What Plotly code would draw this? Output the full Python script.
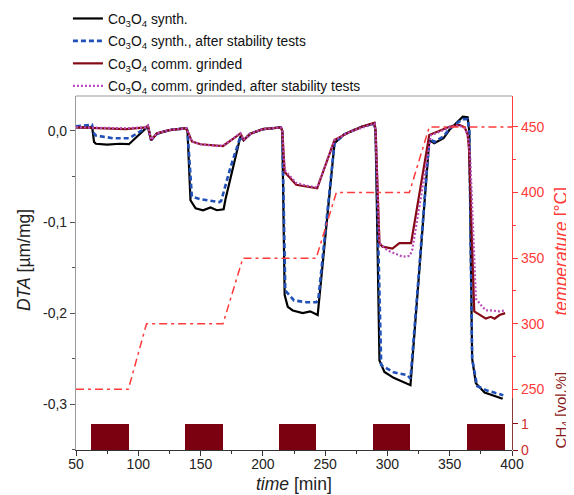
import plotly.graph_objects as go

# ---------------- data ----------------
t_synth = [50, 63, 64.5, 66, 75, 85, 92.5, 105.8, 107.7, 110.3, 115, 125, 138.5, 139.5, 141.9, 146, 152, 158,
           163, 168.5, 170, 182, 184.6, 190, 200, 214.5, 215.6, 217.5, 220, 224, 232, 238, 244, 257.5, 265,
           269.6, 280, 289.5, 290.5, 293.6, 297.6, 305, 312, 318.5, 325.6, 333.6, 337.6, 345, 349.7, 355,
           360.5, 364.4, 365.7, 368, 371, 378, 385, 392.5]
dta_synth = [0.004, 0.004, -0.012, -0.014, -0.015, -0.014, -0.0145, 0.003, 0.005, -0.010, -0.003, 0.001, 0.003,
             0.000, -0.076, -0.085, -0.087, -0.084, -0.087, -0.086, -0.075, -0.006, -0.010, -0.003, 0.002,
             0.004, 0.000, -0.180, -0.193, -0.197, -0.200, -0.198, -0.202, -0.0135, -0.004, -0.001, 0.005,
             0.008, 0.000, -0.252, -0.2645, -0.271, -0.275, -0.279, -0.153, -0.010, -0.0135, -0.008, 0.001,
             0.0085, 0.0157, 0.015, 0.000, -0.250, -0.277, -0.287, -0.290, -0.294]

t_synth_st = [50, 62.8, 64.5, 66, 80, 90, 92.5, 105.8, 107.7, 110.3, 115, 125, 138.5, 139.5, 143, 150, 158,
              165, 166.5, 174, 182, 184.6, 190, 200, 214.5, 215.6, 218, 225, 235, 243, 244.5, 257.5, 265,
              269.6, 280, 289.5, 290.5, 295, 305, 316, 318.5, 325.6, 333.6, 337.6, 345, 350, 355, 360.5,
              364.4, 365.7, 368, 372, 380, 393]
dta_synth_st = [0.005, 0.007, -0.003, -0.005, -0.008, -0.008, -0.008, 0.003, 0.005, -0.010, -0.003, 0.001,
                0.003, 0.000, -0.072, -0.075, -0.077, -0.078, -0.077, -0.040, -0.006, -0.010, -0.003, 0.002,
                0.004, 0.000, -0.175, -0.186, -0.188, -0.188, -0.185, -0.0135, -0.004, -0.001, 0.005, 0.008,
                0.000, -0.257, -0.265, -0.268, -0.272, -0.150, -0.008, -0.012, -0.006, 0.003, 0.008, 0.013,
                0.013, 0.000, -0.250, -0.280, -0.285, -0.290]

t_comm = [50, 90, 106, 107.7, 110.3, 115, 125, 138.5, 139.5, 143.2, 150, 163.2, 168, 176.6, 182, 184.6, 190,
          200, 214.5, 215.6, 217.5, 226.8, 235, 243.6, 257.5, 269.6, 280, 289.6, 290.5, 293.6, 296, 304,
          309.6, 319, 333.6, 340, 349.7, 357.7, 362, 364.4, 365.5, 369.7, 372, 375, 379, 383, 386, 390, 394.5]
dta_comm = [0.004, 0.002, 0.004, 0.0058, -0.0099, -0.0026, 0.001, 0.003, 0.000, -0.0117, -0.0146, -0.0165,
            -0.0165, -0.008, -0.0026, -0.010, -0.003, 0.002, 0.004, 0.000, -0.045, -0.059, -0.061, -0.063,
            -0.010, -0.001, 0.005, 0.009, 0.000, -0.123, -0.127, -0.129, -0.123, -0.123, -0.0044, -0.001,
            0.0047, 0.0066, 0.004, -0.004, -0.020, -0.198, -0.200, -0.203, -0.206, -0.204, -0.206, -0.202,
            -0.200]

t_comm_st = [50, 90, 106, 107.7, 110.3, 115, 125, 138.5, 139.5, 143.2, 150, 163.2, 168, 176.6, 182, 184.6,
             190, 200, 214.5, 215.6, 217.5, 226.8, 235, 243.6, 257.5, 269.6, 280, 289.6, 290.5, 293.6, 300,
             312, 318, 320, 335, 340, 349.7, 357.7, 362, 364.4, 366.5, 371, 375, 379, 383, 389.7, 394.6]
dta_comm_st = [0.004, 0.003, 0.004, 0.0058, -0.0095, -0.0026, 0.001, 0.003, 0.000, -0.0117, -0.0146, -0.0165,
               -0.016, -0.008, -0.0026, -0.010, -0.003, 0.002, 0.004, 0.000, -0.043, -0.057, -0.060, -0.062,
               -0.010, -0.001, 0.004, 0.008, 0.000, -0.123, -0.131, -0.138, -0.137, -0.130, -0.0044, -0.002,
               0.004, 0.006, 0.003, -0.004, -0.030, -0.184, -0.191, -0.197, -0.197, -0.198, -0.197]

t_temp = [50, 92, 106.6, 168, 184, 242.8, 259, 317.6, 333.6, 400]
temp = [250, 250, 300, 300, 350, 350, 400, 400, 450, 450]

ch4_start = [62, 137.3, 212.7, 288.2, 363.5]
ch4_end = [92.2, 167.8, 243, 318.4, 394]
ch4_level = [1, 1, 1, 1, 1]

x_ticks = [50, 100, 150, 200, 250, 300, 350, 400]
dta_ticks = [0.0, -0.1, -0.2, -0.3]
dta_ticktext = ["0,0", "-0,1", "-0,2", "-0,3"]
temp_ticks = [250, 300, 350, 400, 450]
ch4_ticks = [0, 1]

# ---------------- figure ----------------
FONT = "Liberation Sans, Arial, sans-serif"
RED = "#ff3b3b"
DARKRED = "#860a16"
CH4COL = "#7b0010"

fig = go.Figure()

fig.add_trace(go.Bar(x=[(s + e) / 2 for s, e in zip(ch4_start, ch4_end)],
                     width=[e - s for s, e in zip(ch4_start, ch4_end)],
                     y=ch4_level, yaxis="y3", marker=dict(color=CH4COL, line=dict(width=0)),
                     showlegend=False, hoverinfo="skip"))

fig.add_trace(go.Scatter(x=t_temp, y=temp, yaxis="y2", mode="lines",
                         line=dict(color=RED, width=1.5, dash="8px,4px,3px,4px"), showlegend=False))

fig.add_trace(go.Scatter(x=t_synth, y=dta_synth, mode="lines", name="Co<sub>3</sub>O<sub>4</sub> synth.",
                         legendgroup="a", line=dict(color="black", width=2.2)))
fig.add_trace(go.Scatter(x=t_synth_st, y=dta_synth_st, mode="lines",
                         name="Co<sub>3</sub>O<sub>4</sub> synth., after stability tests", legendgroup="b",
                         line=dict(color="#2150b8", width=2.6, dash="5px,3px")))
fig.add_trace(go.Scatter(x=t_comm, y=dta_comm, mode="lines", name="Co<sub>3</sub>O<sub>4</sub> comm. grinded",
                         legendgroup="c", line=dict(color=DARKRED, width=2.2)))
fig.add_trace(go.Scatter(x=t_comm_st, y=dta_comm_st, mode="lines",
                         name="Co<sub>3</sub>O<sub>4</sub> comm. grinded, after stability tests", legendgroup="d",
                         line=dict(color="#b84cb8", width=2.2, dash="2px,2px")))

fig.update_layout(
    width=566, height=487,
    margin=dict(l=68, r=61.5, t=88, b=45, autoexpand=False),
    paper_bgcolor="white", plot_bgcolor="rgba(0,0,0,0)",
    font=dict(family=FONT, size=13, color="#222"),
    showlegend=True,
    legend=dict(x=-0.0185, y=1.2627, xanchor="left", yanchor="top", bgcolor="rgba(0,0,0,0)",
                font=dict(size=13.8, color="#111"), tracegroupgap=1.5, itemwidth=30),
    xaxis=dict(range=[50, 400], tickvals=x_ticks, ticks="outside", ticklen=5, tickwidth=1,
               tickcolor="#333", showline=True, linecolor="#333", linewidth=1, showgrid=False,
               zeroline=False, anchor="y", tickfont=dict(size=14, color="#222"), ticklabelstandoff=-4,
               minor=dict(dtick=25, tick0=0, ticks="outside", ticklen=3, tickcolor="#333")),
    yaxis=dict(range=[-0.3502, 0.0384], tickvals=dta_ticks, ticktext=dta_ticktext, ticks="outside",
               ticklen=5, tickcolor="#555", showline=True, linecolor="#999", linewidth=1.2,
               showgrid=False, zeroline=False, domain=[0, 1], tickfont=dict(size=14, color="#222"),
               minor=dict(dtick=0.05, tick0=0, ticks="outside", ticklen=3, tickcolor="#555")),
    yaxis2=dict(range=[243.4, 473.6], domain=[0.147, 1], anchor="x", side="right", tickvals=temp_ticks,
                ticks="outside", ticklen=5, tickcolor=RED, showline=True, linecolor=RED, linewidth=1.2,
                showgrid=False, zeroline=False, tickfont=dict(size=14, color=RED),
                minor=dict(dtick=25, tick0=0, ticks="outside", ticklen=3, tickcolor=RED)),
    yaxis3=dict(range=[0, 2], domain=[0, 0.147], anchor="x", side="right", tickvals=ch4_ticks,
                ticks="outside", ticklen=5, tickcolor=DARKRED, showline=True, linecolor="#8b3a3a",
                linewidth=1.2, showgrid=False, zeroline=False, tickfont=dict(size=14, color="#d03030")),
    bargap=0,
)

# top frame line
fig.add_shape(type="line", xref="paper", yref="paper", x0=0, x1=1, y0=1, y1=1,
              line=dict(color="#999", width=1.2))

# axis titles
fig.add_annotation(text="<i>time</i> [min]", xref="paper", yref="paper", x=0.5, y=-0.097,
                   xanchor="center", yanchor="middle", showarrow=False, font=dict(size=17.5, color="#222"))
fig.add_annotation(text="<i>DTA</i> [µm/mg]", xref="paper", yref="paper", x=-0.119, y=0.537,
                   xanchor="center", yanchor="middle", textangle=-90, showarrow=False,
                   font=dict(size=17.5, color="#222"))
fig.add_annotation(text="<i>temperature</i> [°C]", xref="paper", yref="paper", x=1.1127, y=0.561,
                   xanchor="center", yanchor="middle", textangle=-90, showarrow=False,
                   font=dict(size=17.5, color=RED))
fig.add_annotation(text="CH<sub>4</sub> [vol.%]", xref="paper", yref="paper", x=1.1157, y=0.113,
                   xanchor="center", yanchor="middle", textangle=-90, showarrow=False,
                   font=dict(size=15, color="#8b1a1a"))

fig.write_html("out.html")
